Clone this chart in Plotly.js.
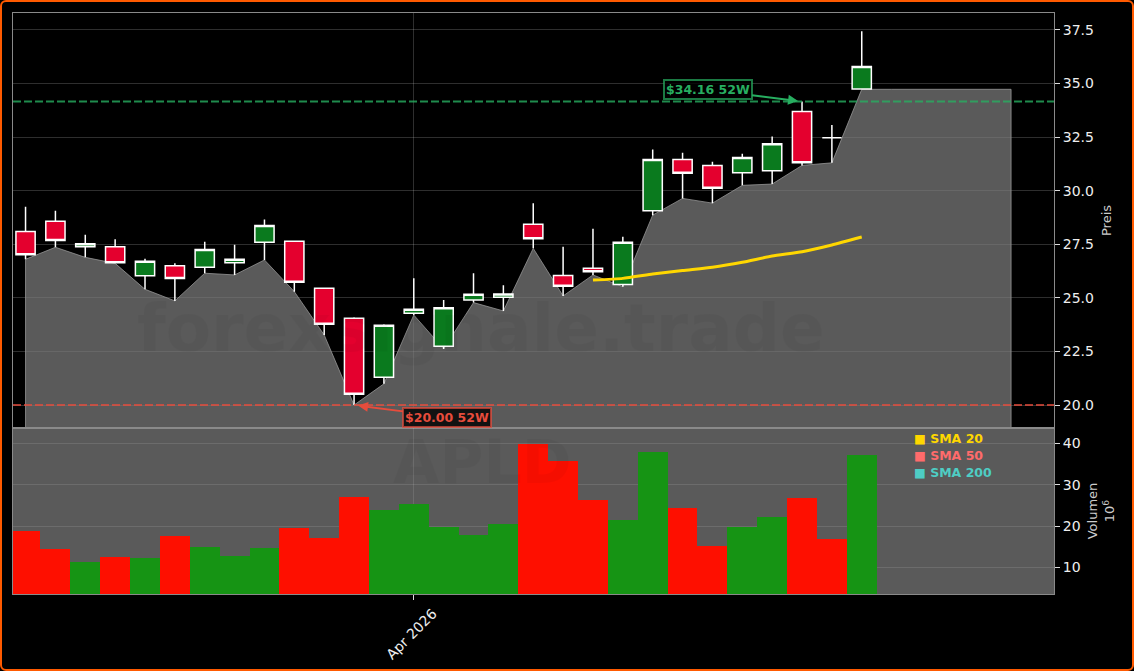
<!DOCTYPE html>
<html><head><meta charset="utf-8">
<script src="https://cdn.plot.ly/plotly-3.0.1.min.js"></script>
<style>
html,body{margin:0;padding:0;background:#000;width:1134px;height:671px;overflow:hidden}
#frame{position:absolute;left:0;top:0;width:1134px;height:671px;box-sizing:border-box;border:2px solid #ff5a00;border-radius:6px;pointer-events:none;z-index:5}
#chart{position:absolute;left:0;top:0;width:1134px;height:671px}
</style></head><body>
<div id="chart"></div><div id="frame"></div>
<script>
const dates=["2026-03-13","2026-03-16","2026-03-17","2026-03-18","2026-03-19","2026-03-20","2026-03-23","2026-03-24","2026-03-25","2026-03-26","2026-03-27","2026-03-30","2026-03-31","2026-04-01","2026-04-02","2026-04-06","2026-04-07","2026-04-08","2026-04-09","2026-04-10","2026-04-13","2026-04-14","2026-04-15","2026-04-16","2026-04-17","2026-04-20","2026-04-21","2026-04-22","2026-04-23"];
const opens=[28.10,28.57,27.39,27.39,26.03,26.50,26.43,26.64,27.59,27.64,25.45,24.05,21.30,24.28,22.74,24.90,25.03,28.43,26.05,26.38,25.63,29.06,31.46,31.18,30.84,30.93,33.69,32.47,34.75];
const highs=[29.25,29.06,27.94,27.73,26.83,26.61,27.62,27.48,28.66,27.64,25.47,24.10,23.77,25.92,24.90,26.15,25.59,29.41,27.39,28.23,27.85,31.92,31.77,31.35,31.72,32.53,34.16,33.07,37.44];
const lows=[26.80,27.36,26.89,26.61,25.40,24.86,26.15,26.07,26.77,25.29,23.27,20.00,20.99,24.20,22.62,24.78,24.39,27.31,25.09,26.07,25.52,28.86,29.64,29.42,30.25,30.31,31.18,31.30,34.73];
const closes=[27.01,27.68,27.53,26.64,26.71,25.91,27.26,26.80,28.38,25.73,23.77,20.51,23.72,24.47,24.54,25.17,25.18,27.76,25.54,26.22,27.59,31.46,30.81,30.11,31.55,32.19,31.30,32.47,35.79];
const volumes=[18.9,14.5,11.4,12.6,12.2,17.6,15.0,12.8,14.6,19.6,17.2,27.1,23.9,25.4,19.9,17.9,20.4,39.9,35.8,26.3,21.5,38.0,24.4,15.2,19.9,22.2,26.7,16.9,37.3];
const volumeUp=[0,0,1,0,1,0,1,1,1,0,0,0,1,1,1,1,1,0,0,0,1,1,0,0,1,1,0,0,1];
const futureDates=["2026-04-24","2026-04-27","2026-04-28","2026-04-29","2026-04-30"];
const futureLows=[34.73,34.73,34.73,34.73,34.73];
const sma20Dates=dates.slice(19);
const sma20=[25.83,25.91,26.11,26.28,26.43,26.66,26.95,27.15,27.47,27.84];
const high52=34.16, low52=20.00;
const legendNames=["SMA 20","SMA 50","SMA 200"];
const legendColors=["#ffd700","#ff6b6b","#4ecdc4"];

const FONT="DejaVu Sans";
const areaX=[dates[0],...dates,...futureDates,futureDates[futureDates.length-1]];
const areaY=[0,...lows,...futureLows,0];
const traces=[
 {type:"scatter",mode:"lines",x:areaX,y:areaY,fill:"tozeroy",fillcolor:"rgba(128,128,128,0.7)",line:{color:"rgba(150,150,150,0.8)",width:1},xaxis:"x",yaxis:"y",showlegend:false,hoverinfo:"skip"},
 {type:"candlestick",x:dates,open:opens,high:highs,low:lows,close:closes,xaxis:"x3",yaxis:"y3",showlegend:false,
  increasing:{fillcolor:"#0a7a1e",line:{color:"#ffffff",width:1.5}},
  decreasing:{fillcolor:"#e4002e",line:{color:"#ffffff",width:1.5}}},
 {type:"scatter",mode:"lines",x:sma20Dates,y:sma20,line:{color:"#ffd700",width:3,shape:"spline",smoothing:0.5},xaxis:"x3",yaxis:"y3",name:"SMA 20",showlegend:false},
 {type:"bar",x:dates,y:volumes,marker:{color:volumeUp.map(u=>u?"#169414":"#fe0f00"),line:{width:0}},xaxis:"x2",yaxis:"y2",showlegend:false}
];
const range=["2026-03-12 13:55","2026-05-01 10:30"];
const priceRange=[18.93,38.29];
const breaks=[{bounds:["sat","mon"]},{values:["2026-04-03"],dvalue:86400000}];
const gridC="rgba(255,255,255,0.18)", gridOnGray="rgba(255,255,255,0.11)", lineC="#8a8a8a";
const xbase={type:"date",range:range,rangebreaks:breaks,showline:true,mirror:true,linecolor:lineC,linewidth:1,gridcolor:gridC,showgrid:true,zeroline:false,tickvals:["2026-04-01"],rangeslider:{visible:false}};
const ybase={side:"right",showline:true,mirror:true,linecolor:lineC,linewidth:1,gridcolor:gridC,zeroline:false,ticks:"outside",ticklen:5,tickcolor:"#dddddd",tickfont:{family:FONT,size:14,color:"#eeeeee"}};
const PW=1041, PH=581;
const volTop=166/PH;
const px=x=>(x-13)/PW, py=y=>1-(y-13)/PH;
const layout={
 width:1134,height:671,margin:{l:13,r:80,t:13,b:77,pad:0},paper_bgcolor:"#000",plot_bgcolor:"#000",showlegend:false,bargap:0,boxgap:0.08,
 font:{family:FONT,color:"#ddd",size:13},
 xaxis:{...xbase,anchor:"y",ticks:"",showticklabels:false},
 xaxis2:{...xbase,anchor:"y2",matches:"x",gridcolor:gridOnGray,ticks:"outside",ticklen:5,tickcolor:"#dddddd",ticktext:["Apr 2026"],tickangle:-45,ticklabelshift:19,tickfont:{family:FONT,size:14,color:"#eeeeee"}},
 xaxis3:{type:"date",range:range,rangebreaks:breaks,overlaying:"x",matches:"x",anchor:"y3",visible:false,showgrid:false,rangeslider:{visible:false}},
 yaxis:{...ybase,domain:[volTop,1],range:priceRange,tickvals:[20,22.5,25,27.5,30,32.5,35,37.5],ticktext:["20.0","22.5","25.0","27.5","30.0","32.5","35.0","37.5"],title:{text:"Preis",font:{family:FONT,size:13,color:"#cccccc"},standoff:8}},
 yaxis2:{...ybase,domain:[0,volTop],range:[3.58,43.75],gridcolor:gridOnGray,tickvals:[10,20,30,40],title:{text:"Volumen<br>10<sup>6</sup>",font:{family:FONT,size:13,color:"#cccccc"},standoff:8}},
 yaxis3:{domain:[volTop,1],range:priceRange,overlaying:"y",matches:"y",anchor:"x3",side:"right",visible:false,showgrid:false},
 shapes:[
  {type:"rect",layer:"below",xref:"x2 domain",yref:"y2 domain",x0:0,x1:1,y0:0,y1:1,fillcolor:"#5a5a5a",line:{width:0}},
  {type:"line",layer:"above",xref:"x domain",yref:"y",x0:0,x1:1,y0:high52,y1:high52,line:{color:"rgba(39,174,96,0.8)",width:2,dash:"8px,3px"}},
  {type:"line",layer:"above",xref:"x domain",yref:"y",x0:0,x1:1,y0:low52,y1:low52,line:{color:"rgba(231,76,60,0.75)",width:2,dash:"8px,3px"}}
 ],
 annotations:[
  {xref:"paper",yref:"paper",x:px(481),y:py(328),text:"forexsignale.trade",showarrow:false,opacity:0.03,font:{family:FONT,size:66,weight:"bold",color:"#000000"},xanchor:"center",yanchor:"middle"},
  {xref:"paper",yref:"paper",x:px(482),y:py(462),text:"APLD",showarrow:false,opacity:0.03,font:{family:FONT,size:60,weight:"bold",color:"#000000"},xanchor:"center",yanchor:"middle"},
  {xref:"x",yref:"y",x:dates[26],y:high52,ax:-94,ay:-12,text:"$34.16 52W",showarrow:true,arrowhead:2,arrowsize:1,arrowwidth:2,arrowcolor:"#27ae60",standoff:4,font:{family:FONT,size:12.5,weight:"bold",color:"#27ae60"},bgcolor:"rgba(0,0,0,0.8)",bordercolor:"rgba(39,174,96,0.7)",borderwidth:2,borderpad:1},
  {xref:"x",yref:"y",x:dates[11],y:low52,ax:93,ay:12,text:"$20.00 52W",showarrow:true,arrowhead:2,arrowsize:1,arrowwidth:2,arrowcolor:"#e74c3c",standoff:4,font:{family:FONT,size:12.5,weight:"bold",color:"#e74c3c"},bgcolor:"rgba(0,0,0,0.8)",bordercolor:"rgba(231,76,60,0.7)",borderwidth:2,borderpad:1},
  ...legendNames.map((n,i)=>({xref:"paper",yref:"paper",x:px(912),y:py(438+17*i),text:"■ "+n,showarrow:false,xanchor:"left",yanchor:"middle",font:{family:FONT,size:12.5,weight:"bold",color:legendColors[i]}}))
 ]
};
Plotly.newPlot("chart",traces,layout,{displayModeBar:false,staticPlot:true});
</script></body></html>
